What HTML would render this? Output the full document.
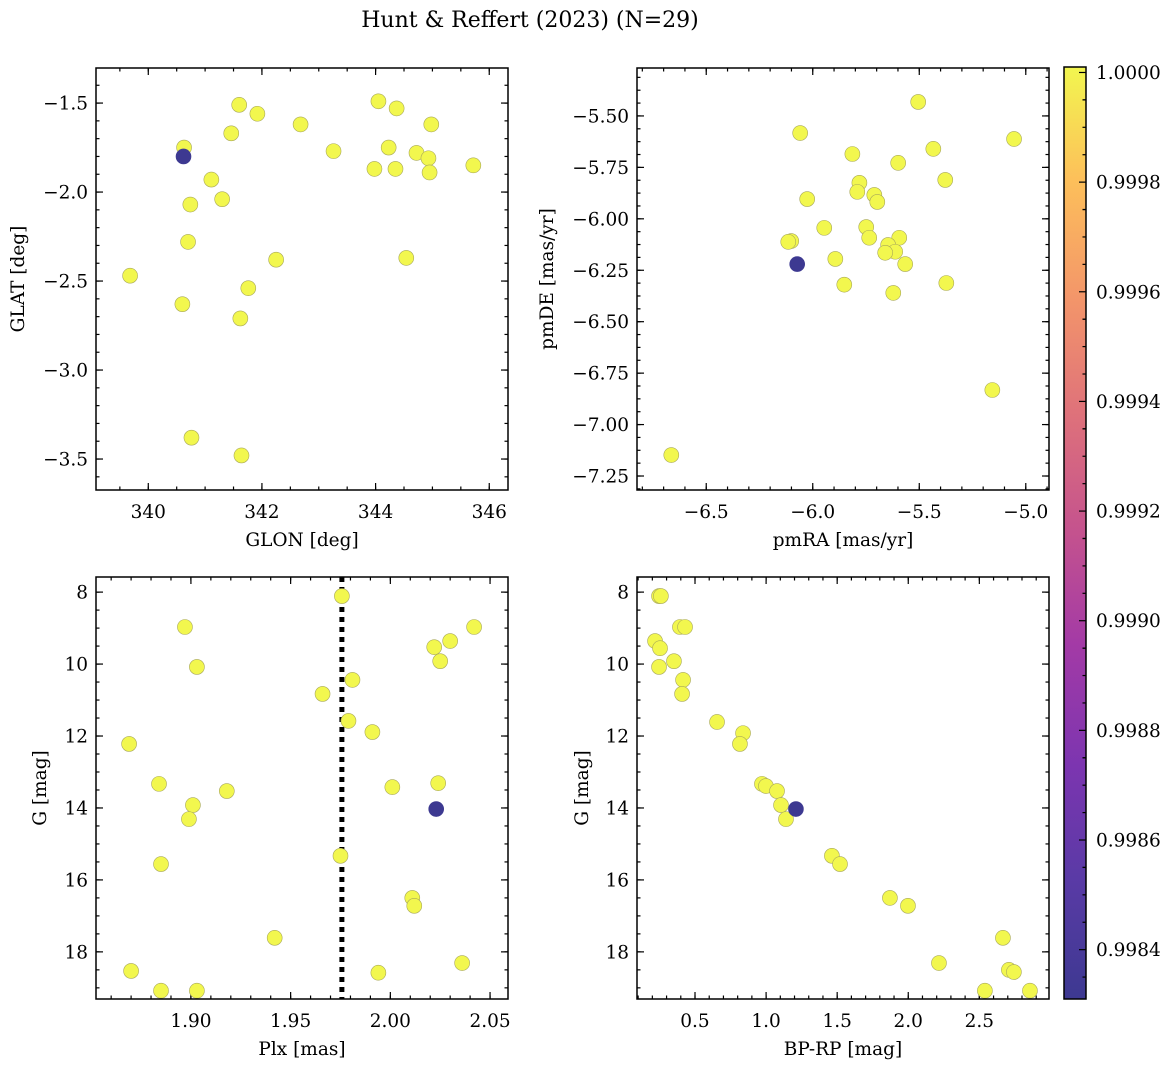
<!DOCTYPE html>
<html><head><meta charset="utf-8"><style>
html,body{margin:0;padding:0;background:#fff;}
svg text{font-family:"DejaVu Serif","Liberation Serif",serif;fill:#000;}
</style></head><body>
<svg id="fig" width="1173" height="1067" xmlns="http://www.w3.org/2000/svg">
<defs>
<linearGradient id="plasma" x1="0" y1="1" x2="0" y2="0">
<stop offset="0" stop-color="#3d3991"/><stop offset="0.13" stop-color="#5a3aa6"/>
<stop offset="0.25" stop-color="#7c35b0"/><stop offset="0.38" stop-color="#a33aa6"/>
<stop offset="0.5" stop-color="#c4528e"/><stop offset="0.63" stop-color="#df727a"/>
<stop offset="0.75" stop-color="#f3956a"/><stop offset="0.88" stop-color="#fdc05a"/>
<stop offset="1" stop-color="#f2f64f"/>
</linearGradient>
</defs>
<text x="530" y="27" font-size="22" text-anchor="middle">Hunt &amp; Reffert (2023) (N=29)</text>
</svg>
<script>
// Panel 1: GLON / GLAT
const p1x=[340.63,341.60,341.92,341.46,342.68,343.26,344.05,344.37,344.98,344.23,344.72,344.93,343.98,344.35,344.95,345.72,341.11,340.74,341.30,340.70,342.25,344.54,339.68,341.76,340.60,341.62,340.76,341.64];
const p1y=[-1.75,-1.51,-1.56,-1.67,-1.62,-1.77,-1.49,-1.53,-1.62,-1.75,-1.78,-1.81,-1.87,-1.87,-1.89,-1.85,-1.93,-2.07,-2.04,-2.28,-2.38,-2.37,-2.47,-2.54,-2.63,-2.71,-3.38,-3.48];
const p1dark=[340.62,-1.80];
// Panel 2: pmRA / pmDE
const p2x=[-6.664,-5.505,-5.055,-6.059,-5.434,-5.814,-5.599,-5.378,-5.781,-5.791,-5.711,-5.697,-6.026,-5.946,-5.749,-5.735,-5.594,-6.101,-6.115,-5.646,-5.613,-5.660,-5.566,-5.894,-5.852,-5.622,-5.373,-5.157];
const p2y=[-7.148,-5.432,-5.612,-5.583,-5.660,-5.685,-5.728,-5.811,-5.825,-5.869,-5.884,-5.918,-5.904,-6.044,-6.040,-6.092,-6.092,-6.108,-6.112,-6.127,-6.160,-6.165,-6.220,-6.195,-6.320,-6.360,-6.312,-6.832];
const p2dark=[-6.073,-6.22];
// Panel 3: Plx / G
const p3x=[1.9757,1.897,2.042,2.030,2.022,1.903,2.025,1.981,1.966,1.979,1.991,1.869,1.884,1.918,2.024,2.001,1.901,1.899,1.885,1.975,2.011,2.012,1.942,1.870,2.036,1.994,1.885,1.903];
const p3y=[8.11,8.97,8.97,9.36,9.53,10.08,9.92,10.44,10.83,11.58,11.89,12.22,13.33,13.53,13.31,13.42,13.92,14.31,15.56,15.33,16.5,16.72,17.61,18.53,18.31,18.58,19.08,19.08];
const p3dark=[2.023,14.03];
const plxLine=1.9757;
// Panel 4: BP-RP / G
const p4x=[0.247,0.219,0.254,0.394,0.430,0.247,0.352,0.416,0.409,0.655,0.838,0.816,0.971,0.999,1.077,1.105,1.14,1.463,1.52,1.871,1.998,2.666,2.216,2.708,2.743,2.539,2.856,0.260];
const p4y=[8.11,9.36,9.56,8.97,8.97,10.08,9.92,10.44,10.83,11.61,11.92,12.22,13.33,13.39,13.53,13.92,14.31,15.33,15.56,16.5,16.72,17.61,18.31,18.5,18.56,19.08,19.08,8.11];
const p4dark=[1.210,14.03];
// Colorbar
const cbTicks=[0.9984,0.9986,0.9988,0.9990,0.9992,0.9994,0.9996,0.9998,1.0000];

const NS='http://www.w3.org/2000/svg';
const svg=document.getElementById('fig');
const FS=18.5;
function mk(tag,attrs,parent){const e=document.createElementNS(NS,tag);for(const k in attrs)e.setAttribute(k,attrs[k]);(parent||svg).appendChild(e);return e;}
function fmt(v,d){return (v<0?'\u2212':'')+Math.abs(v).toFixed(d);}

function panel(o){
  const g=mk('g',{});
  
  
  const sx=v=>o.L+(v-o.x0)/(o.x1-o.x0)*(o.R-o.L);
  const sy=v=>o.inv? o.T+(v-o.y0)/(o.y1-o.y0)*(o.B-o.T) : o.B-(v-o.y0)/(o.y1-o.y0)*(o.B-o.T);
  const xmaj=[],ymaj=[];
  for(let v=o.xs;v<=o.x1+1e-9;v+=o.xstep) xmaj.push(v);
  for(let v=o.ys;v<=o.y1+1e-9;v+=o.ystep) ymaj.push(v);
  const minorX=[],minorY=[];
  for(let v=o.xs-o.xstep;v<=o.x1;v+=o.xstep/o.xm) if(v>=o.x0&&v<=o.x1) minorX.push(v);
  for(let v=o.ys-o.ystep;v<=o.y1;v+=o.ystep/o.ym) if(v>=o.y0&&v<=o.y1) minorY.push(v);
  const tk=mk('g',{stroke:'#000','stroke-width':1.2},g);
  minorX.forEach(v=>{const x=sx(v);mk('line',{x1:x,x2:x,y1:o.B,y2:o.B-3.5},tk);mk('line',{x1:x,x2:x,y1:o.T,y2:o.T+3.5},tk);});
  minorY.forEach(v=>{const y=sy(v);mk('line',{x1:o.L,x2:o.L+3.5,y1:y,y2:y},tk);mk('line',{x1:o.R,x2:o.R-3.5,y1:y,y2:y},tk);});
  xmaj.forEach(v=>{const x=sx(v);mk('line',{x1:x,x2:x,y1:o.B,y2:o.B-7},tk);mk('line',{x1:x,x2:x,y1:o.T,y2:o.T+7},tk);
    const t=mk('text',{x:x,y:o.B+28,'font-size':FS,'text-anchor':'middle'},g);t.textContent=fmt(v,o.xd);
    });
  ymaj.forEach(v=>{const y=sy(v);mk('line',{x1:o.L,x2:o.L+7,y1:y,y2:y},tk);mk('line',{x1:o.R,x2:o.R-7,y1:y,y2:y},tk);
    const t=mk('text',{x:o.L-8,y:y+6.5,'font-size':FS,'text-anchor':'end'},g);t.textContent=fmt(v,o.yd);
    });
  if(o.vline!==undefined){const l=mk('line',{x1:sx(o.vline),x2:sx(o.vline),y1:o.T,y2:o.B,stroke:'#000','stroke-width':5,'stroke-dasharray':'5,5'},g);
    }
  o.xs_.forEach((v,i)=>{const c=mk('circle',{cx:sx(v),cy:sy(o.ys_[i]),r:7.5,fill:'#f2f74e',stroke:'#a8a85a','stroke-width':0.6},g);
    });
  const d=mk('circle',{cx:sx(o.dark[0]),cy:sy(o.dark[1]),r:7.5,fill:'#3d3991',stroke:'#3d3991','stroke-width':0.6},g);
  
  const f=mk('rect',{x:o.L,y:o.T,width:o.R-o.L,height:o.B-o.T,fill:'none',stroke:'#000','stroke-width':1.5},g);
  
  const xl=mk('text',{x:(o.L+o.R)/2,y:o.B+56,'font-size':FS,'text-anchor':'middle'},g);xl.textContent=o.xlab;
  
  const yl=mk('text',{x:0,y:0,'font-size':FS,'text-anchor':'middle',transform:`translate(${o.ylx},${(o.T+o.B)/2}) rotate(-90)`},g);yl.textContent=o.ylab;
  
}
panel({name:'glon-glat-panel',L:96,R:508,T:68,B:490,x0:339.08,x1:346.33,y0:-3.674,y1:-1.303,xs:340,xstep:2,xm:4,xd:0,ys:-3.5,ystep:0.5,ym:5,yd:1,
  xs_:p1x,ys_:p1y,dark:p1dark,xlab:'GLON [deg]',ylab:'GLAT [deg]',ylx:24});
panel({name:'proper-motion-panel',L:637,R:1049,T:68,B:490,x0:-6.825,x1:-4.891,y0:-7.318,y1:-5.267,xs:-6.5,xstep:0.5,xm:5,xd:1,ys:-7.25,ystep:0.25,ym:4,yd:2,
  xs_:p2x,ys_:p2y,dark:p2dark,xlab:'pmRA [mas/yr]',ylab:'pmDE [mas/yr]',ylx:553});
panel({name:'plx-g-panel',L:96,R:508,T:577,B:999,inv:true,x0:1.8524,x1:2.059,y0:7.58,y1:19.31,xs:1.9,xstep:0.05,xm:5,xd:2,ys:8,ystep:2,ym:4,yd:0,
  xs_:p3x,ys_:p3y,dark:p3dark,vline:plxLine,xlab:'Plx [mas]',ylab:'G [mag]',ylx:46});
panel({name:'cmd-panel',L:637,R:1049,T:577,B:999,inv:true,x0:0.092,x1:2.99,y0:7.58,y1:19.31,xs:0.5,xstep:0.5,xm:5,xd:1,ys:8,ystep:2,ym:4,yd:0,
  xs_:p4x,ys_:p4y,dark:p4dark,xlab:'BP-RP [mag]',ylab:'G [mag]',ylx:588});
const cb=mk('g',{});


const cL=1064,cR=1086,cT=67,cB=999,c0=0.99831,c1=1.00001;
const cy=v=>cB-(v-c0)/(c1-c0)*(cB-cT);
mk('rect',{x:cL,y:cT,width:cR-cL,height:cB-cT,fill:'url(#plasma)',stroke:'#000','stroke-width':1.5},cb);
cbTicks.forEach((v,i)=>{const y=cy(v);mk('line',{x1:cR,x2:cR-7,y1:y,y2:y,stroke:'#000','stroke-width':1.2},cb);
  for(let k=1;k<4;k++){const ym=cy(v+k*0.00005);if(ym>cT)mk('line',{x1:cR,x2:cR-3.5,y1:ym,y2:ym,stroke:'#000','stroke-width':1.2},cb);}
  const yb=cy(v-0.00005);if(yb<cB)mk('line',{x1:cR,x2:cR-3.5,y1:yb,y2:yb,stroke:'#000','stroke-width':1.2},cb);
  const t=mk('text',{x:cR+10,y:y+6.5,'font-size':FS},cb);t.textContent=v.toFixed(4);
  });
</script>
</body></html>
